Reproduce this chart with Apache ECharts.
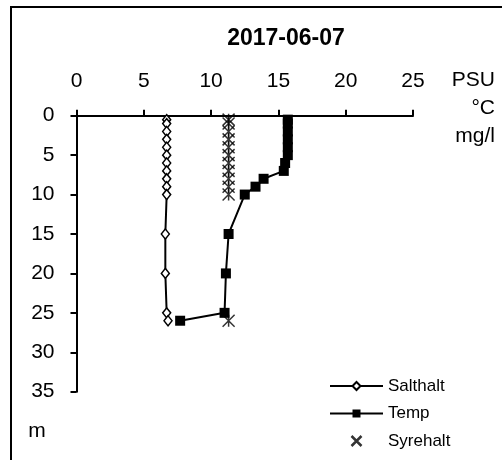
<!DOCTYPE html>
<html>
<head>
<meta charset="utf-8">
<script src="https://cdn.jsdelivr.net/npm/echarts@6/dist/echarts.min.js"></script>
<style>
html,body{margin:0;padding:0;background:#fff;}
#chart{width:502px;height:460px;}
</style>
</head>
<body>
<div id="chart"></div>
<script>
const titleText = '2017-06-07';
const xTicks = [0, 5, 10, 15, 20, 25];
const yTicks = [0, 5, 10, 15, 20, 25, 30, 35];
const unitLabels = ['PSU', '°C', 'mg/l'];
const depthLabel = 'm';
const seriesNames = ['Salthalt', 'Temp', 'Syrehalt'];

const saltDepth = [0.5, 1, 2, 3, 4, 5, 6, 7, 8, 9, 10, 15, 20, 25, 26];
const saltValue = [6.7, 6.7, 6.7, 6.7, 6.7, 6.7, 6.7, 6.7, 6.7, 6.7, 6.7, 6.6, 6.6, 6.7, 6.8];

const tempDepth = [0.5, 1, 2, 3, 4, 5, 6, 7, 8, 9, 10, 15, 20, 25, 26];
const tempValue = [15.7, 15.7, 15.7, 15.7, 15.7, 15.7, 15.5, 15.4, 13.9, 13.3, 12.5, 11.3, 11.1, 11.0, 7.7];

const oxyDepth = [0.5, 1, 2, 3, 4, 5, 6, 7, 8, 9, 10, 26];
const oxyValue = [11.3, 11.3, 11.3, 11.3, 11.3, 11.3, 11.3, 11.3, 11.3, 11.3, 11.3, 11.3];

const pairs = (xs, ds) => xs.map((v, i) => [v, ds[i]]);

const FONT = '"Liberation Sans", Arial, sans-serif';
const chart = echarts.init(document.getElementById('chart'), null, {renderer: 'canvas'});

const starPath = 'path://M0,0L10,10M10,0L0,10M5,0L5,10';
const xPath = 'path://M0,0L10,10M10,0L0,10';

chart.setOption({
  backgroundColor: '#fff',
  animation: false,
  textStyle: {fontFamily: FONT, color: '#000'},
  grid: {left: 76.5, right: 89, top: 115.7, bottom: 68.3, containLabel: false},
  xAxis: {
    type: 'value', position: 'top', min: xTicks[0], max: xTicks[xTicks.length - 1], interval: 5,
    axisLine: {show: true, onZero: false, lineStyle: {color: '#000', width: 2}},
    axisTick: {show: true, inside: false, length: 6, lineStyle: {color: '#000', width: 2}},
    axisLabel: {show: true, margin: 24, fontSize: 21, color: '#000', fontFamily: FONT},
    splitLine: {show: false}
  },
  yAxis: {
    type: 'value', inverse: true, min: yTicks[0], max: yTicks[yTicks.length - 1], interval: 5,
    axisLine: {show: true, onZero: false, lineStyle: {color: '#000', width: 2}},
    axisTick: {show: true, inside: false, length: 6, lineStyle: {color: '#000', width: 2}},
    axisLabel: {show: true, margin: 22, fontSize: 21, color: '#000', fontFamily: FONT},
    splitLine: {show: false}
  },
  legend: {
    orient: 'vertical', left: 329, top: 377, padding: 0,
    itemWidth: 53, itemHeight: 10, itemGap: 9.5,
    textStyle: {fontSize: 17, color: '#000', fontFamily: FONT, lineHeight: 18},
    data: [
      {name: seriesNames[0]},
      {name: seriesNames[1]},
      {name: seriesNames[2], icon: xPath, itemStyle: {color: 'none', borderColor: '#000', borderWidth: 2.5}}
    ]
  },
  graphic: [
    {type: 'rect', shape: {x: 11, y: 7, width: 700, height: 700}, style: {fill: 'none', stroke: '#000', lineWidth: 2}, silent: true, z: -1},
    {type: 'text', x: 286, y: 39, style: {text: titleText, font: 'bold 23px ' + FONT, fill: '#000', textAlign: 'center', textVerticalAlign: 'middle'}},
    {type: 'text', x: 495, y: 80, style: {text: unitLabels[0], font: '21px ' + FONT, fill: '#000', textAlign: 'right', textVerticalAlign: 'middle'}},
    {type: 'text', x: 495, y: 108, style: {text: unitLabels[1], font: '21px ' + FONT, fill: '#000', textAlign: 'right', textVerticalAlign: 'middle'}},
    {type: 'text', x: 495, y: 136, style: {text: unitLabels[2], font: '21px ' + FONT, fill: '#000', textAlign: 'right', textVerticalAlign: 'middle'}},
    {type: 'text', x: 37, y: 431, style: {text: depthLabel, font: '21px ' + FONT, fill: '#000', textAlign: 'center', textVerticalAlign: 'middle'}}
  ],
  series: [
    {
      name: seriesNames[0], type: 'line', data: pairs(saltValue, saltDepth),
      symbol: 'diamond', symbolSize: [8, 10], showAllSymbol: true,
      lineStyle: {color: '#000', width: 2},
      itemStyle: {color: '#fff', borderColor: '#000', borderWidth: 1.5},
      z: 3
    },
    {
      name: seriesNames[1], type: 'line', data: pairs(tempValue, tempDepth),
      symbol: 'rect', symbolSize: 10, showAllSymbol: true,
      lineStyle: {color: '#000', width: 2},
      itemStyle: {color: '#000', borderColor: '#000', borderWidth: 0},
      z: 3
    },
    {
      name: seriesNames[2], type: 'scatter', data: pairs(oxyValue, oxyDepth),
      symbol: starPath, symbolSize: 12,
      itemStyle: {color: 'none', borderColor: '#000', borderWidth: 1.5},
      z: 4
    }
  ]
});
</script>
</body>
</html>
